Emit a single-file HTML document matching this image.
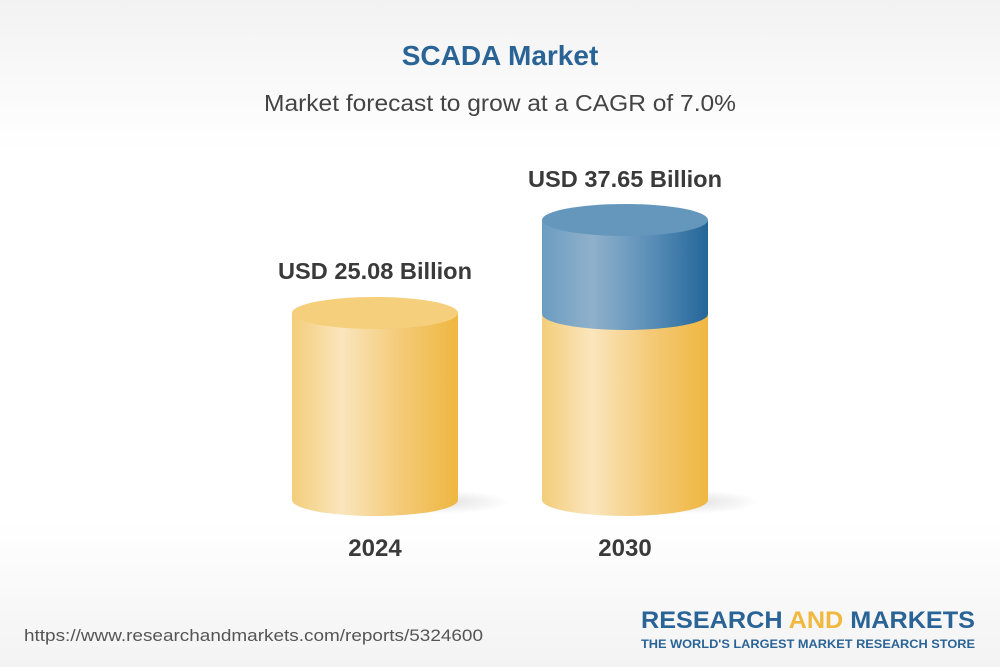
<!DOCTYPE html>
<html><head><meta charset="utf-8"><style>
html,body{margin:0;padding:0}
body{width:1000px;height:667px;overflow:hidden;font-family:"Liberation Sans",sans-serif;background:linear-gradient(#f2f2f2 0px,#fff 150px,#fff 520px,#f3f3f3 667px);position:relative}
.t{position:absolute;left:0;width:1000px;text-align:center}
</style></head><body>
<div class="t" style="top:40px;font-size:28px;font-weight:bold;color:#2a6496">SCADA Market</div>
<svg width="1000" height="667" style="position:absolute;left:0;top:0">
<defs>
<linearGradient id="y" x1="0" x2="1"><stop offset="0" stop-color="#f3cd7a"/><stop offset="0.3" stop-color="#fae5bd"/><stop offset="0.65" stop-color="#f4ca78"/><stop offset="1" stop-color="#efb741"/></linearGradient>
<linearGradient id="b" x1="0" x2="1"><stop offset="0" stop-color="#6b9cc0"/><stop offset="0.3" stop-color="#8fb1cb"/><stop offset="0.65" stop-color="#5b8fb8"/><stop offset="1" stop-color="#246699"/></linearGradient>
<radialGradient id="s"><stop offset="0" stop-color="#000" stop-opacity="0.12"/><stop offset="1" stop-color="#000" stop-opacity="0"/></radialGradient>
</defs>
<text x="500" y="111" text-anchor="middle" font-size="23" fill="#444" font-family="Liberation Sans" textLength="472" lengthAdjust="spacingAndGlyphs">Market forecast to grow at a CAGR of 7.0%</text>
<ellipse cx="440" cy="502" rx="70" ry="12" fill="url(#s)"/>
<ellipse cx="690" cy="502" rx="70" ry="12" fill="url(#s)"/>
<path d="M292 313 L292 500 A83 16 0 0 0 458 500 L458 313 Z" fill="url(#y)"/>
<ellipse cx="375" cy="313" rx="83" ry="16" fill="#f5cf7b"/>
<path d="M542 314 L542 500 A83 16 0 0 0 708 500 L708 314 Z" fill="url(#y)"/>
<path d="M542 220 L542 314 A83 16 0 0 0 708 314 L708 220 Z" fill="url(#b)"/>
<ellipse cx="625" cy="220" rx="83" ry="16" fill="#6597bd"/>
<text x="375" y="279" text-anchor="middle" font-size="23" font-weight="bold" fill="#3a3a3a" font-family="Liberation Sans" textLength="194" lengthAdjust="spacingAndGlyphs">USD 25.08 Billion</text>
<text x="625" y="187" text-anchor="middle" font-size="23" font-weight="bold" fill="#3a3a3a" font-family="Liberation Sans" textLength="194" lengthAdjust="spacingAndGlyphs">USD 37.65 Billion</text>
<text x="375" y="556" text-anchor="middle" font-size="24" font-weight="bold" fill="#3a3a3a" font-family="Liberation Sans">2024</text>
<text x="625" y="556" text-anchor="middle" font-size="24" font-weight="bold" fill="#3a3a3a" font-family="Liberation Sans">2030</text>
<text x="24" y="641" font-size="17" fill="#555" font-family="Liberation Sans" textLength="459" lengthAdjust="spacingAndGlyphs">https://www.researchandmarkets.com/reports/5324600</text>
<text x="975" y="628" text-anchor="end" font-size="24" font-weight="bold" fill="#2a6496" font-family="Liberation Sans" textLength="334" lengthAdjust="spacingAndGlyphs">RESEARCH <tspan fill="#f0b83e">AND</tspan> MARKETS</text>
<text x="975" y="648" text-anchor="end" font-size="12" font-weight="bold" fill="#2a6496" font-family="Liberation Sans" textLength="334" lengthAdjust="spacingAndGlyphs">THE WORLD'S LARGEST MARKET RESEARCH STORE</text>
</svg>
</body></html>
